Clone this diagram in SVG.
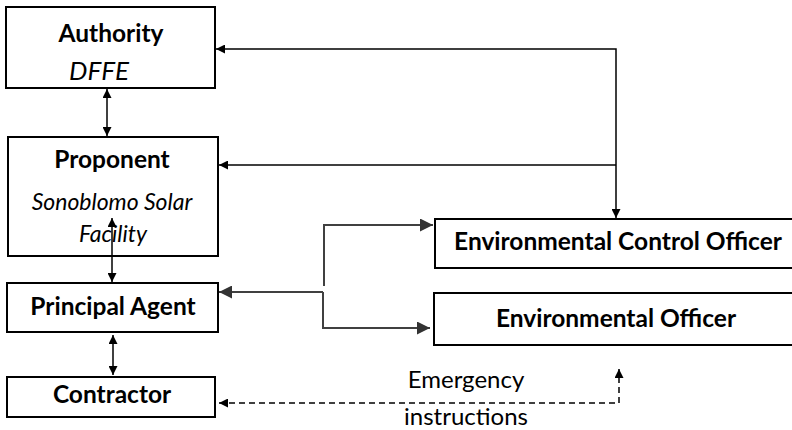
<svg xmlns="http://www.w3.org/2000/svg" width="792" height="430" viewBox="0 0 792 430">
<defs>
<style>
.box{fill:#fff;stroke:#000;stroke-width:2}
.t{font-family:Lato,"Open Sans","Liberation Sans",sans-serif;font-weight:bold;font-size:24.5px;fill:#000;text-anchor:middle}
.i{font-family:Lato,"Open Sans","Liberation Sans",sans-serif;font-style:italic;font-size:23px;fill:#000;text-anchor:middle}
.r{font-family:Lato,"Open Sans","Liberation Sans",sans-serif;font-size:24px;fill:#000;text-anchor:middle}
.k{fill:none;stroke:#000;stroke-width:1.5}
.g{fill:none;stroke:#404040;stroke-width:2}
.d{fill:none;stroke:#000;stroke-width:1.5;stroke-dasharray:6 4}
</style>
<marker id="ab" viewBox="0 0 10 10" refX="10" refY="5" markerWidth="9" markerHeight="9" markerUnits="userSpaceOnUse" orient="auto-start-reverse"><path d="M0,0L10,5L0,10z" fill="#000"/></marker>
<marker id="ag" viewBox="0 0 10 10" refX="10" refY="5" markerWidth="13" markerHeight="13" markerUnits="userSpaceOnUse" orient="auto-start-reverse"><path d="M0,0L10,5L0,10z" fill="#333"/></marker>
</defs>
<g id="authority"><rect class="box" x="6" y="7" width="209" height="81"/><text class="t" x="111" y="42">Authority</text><text class="i" x="99" y="80" style="font-size:26px">DFFE</text></g>
<g id="proponent"><rect class="box" x="8" y="137" width="210" height="119"/><text class="t" x="112" y="168">Proponent</text><text class="i" x="112" y="210">Sonoblomo Solar</text><text class="i" x="113" y="242">Facility</text></g>
<g id="principal"><rect class="box" x="7" y="283" width="211" height="49"/><text class="t" x="113" y="315">Principal Agent</text></g>
<g id="contractor"><rect class="box" x="7" y="377" width="208" height="40"/><text class="t" x="112" y="403">Contractor</text></g>
<g id="eco"><rect class="box" x="435" y="219" width="365" height="49"/><text class="t" x="618" y="250">Environmental Control Officer</text></g>
<g id="eo"><rect class="box" x="434" y="293" width="366" height="52"/><text class="t" x="616" y="327">Environmental Officer</text></g>
<g id="connectors">
<line class="k" x1="107" y1="89" x2="107" y2="136" marker-start="url(#ab)" marker-end="url(#ab)"/>
<line class="k" x1="112" y1="218" x2="112" y2="282" marker-start="url(#ab)" marker-end="url(#ab)"/>
<line class="k" x1="113" y1="335" x2="113" y2="375" marker-start="url(#ab)" marker-end="url(#ab)"/>
<polyline class="k" points="216,49 616,49 616,218" marker-start="url(#ab)" marker-end="url(#ab)"/>
<line class="k" x1="616" y1="165" x2="219" y2="165" marker-end="url(#ab)"/>
<polyline class="g" points="324,286 324,225 433,225" marker-end="url(#ag)"/>
<line class="g" x1="323" y1="292" x2="219" y2="292" marker-end="url(#ag)"/>
<polyline class="g" points="323,292 323,328 430,328" marker-end="url(#ag)"/>
<polyline class="d" points="219,403 619,403 619,369" marker-start="url(#ab)" marker-end="url(#ab)"/>
</g>
<text class="r" x="466" y="388">Emergency</text>
<text class="r" x="466" y="425">instructions</text>
</svg>
